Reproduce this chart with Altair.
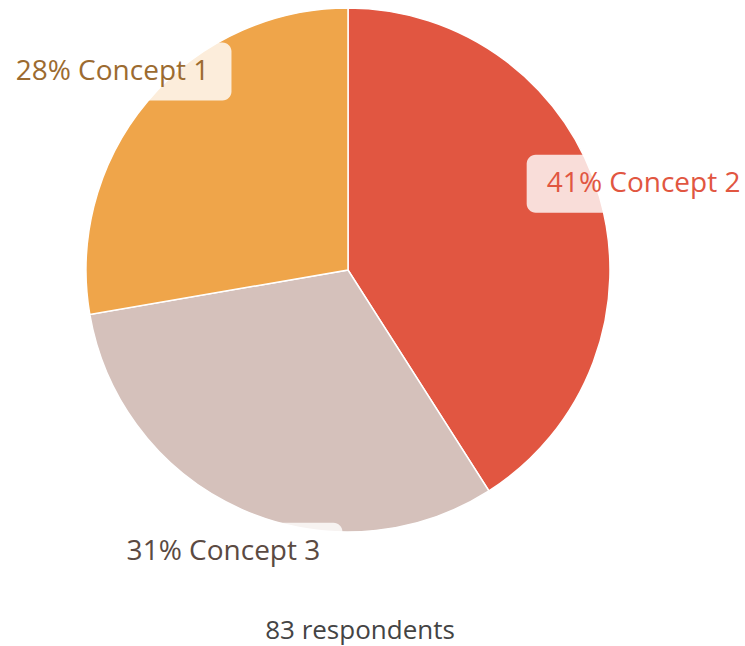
import altair as alt
import pandas as pd

# Data (clockwise from 12 o'clock)
concepts = ["Concept 2", "Concept 3", "Concept 1"]
counts = [34, 26, 23]          # 83 respondents -> 41%, 31%, 28%
slice_colors = ["#e15641", "#d5c1bb", "#efa54a"]
label_colors = ["#e15641", "#5b4a42", "#9c6b30"]

df = pd.DataFrame({"concept": concepts, "count": counts, "idx": list(range(len(concepts)))})

W, H = 745, 646
CX, CY, R = 348, 270, 262
LR = 308
FONT = "Open Sans"

xs = alt.Scale(domain=[0, W], range=[0, W], nice=False, zero=False)
ys = alt.Scale(domain=[0, H], range=[0, H], nice=False, zero=False)

base = (
    alt.Chart(df)
    .transform_joinaggregate(total="sum(count)")
    .transform_window(cum="sum(count)", sort=[alt.SortField("idx")], frame=[None, 0])
    .transform_calculate(
        mid="2*PI*(datum.cum - datum.count/2)/datum.total",
    )
    .transform_calculate(
        lx=f"{CX} + {LR}*sin(datum.mid)",
        ly=f"{CY} - {LR}*cos(datum.mid)",
        label="format(datum.count/datum.total, '.0%') + ' ' + datum.concept",
    )
)

arcs = alt.Chart(df).mark_arc(outerRadius=R, stroke="white", strokeWidth=1.5).encode(
    theta=alt.Theta("count:Q", stack=True),
    order=alt.Order("idx:Q"),
    color=alt.Color("concept:N", scale=alt.Scale(domain=concepts, range=slice_colors), legend=None),
    x=alt.value(CX),
    y=alt.value(CY),
)

boxes = (
    base.transform_calculate(
        bx1="datum.lx - 117", bx2="datum.lx + 119",
        by1="datum.ly - 29", by2="datum.ly + 29",
    )
    .mark_rect(cornerRadius=9, color="white", opacity=0.8)
    .encode(
        x=alt.X("bx1:Q", scale=xs, axis=None),
        x2="bx2:Q",
        y=alt.Y("by1:Q", scale=ys, axis=None),
        y2="by2:Q",
    )
)

labels = base.mark_text(font=FONT, fontSize=28, align="center", baseline="middle").encode(
    x=alt.X("lx:Q", scale=xs, axis=None),
    y=alt.Y("ly:Q", scale=ys, axis=None),
    text="label:N",
    color=alt.Color("concept:N", scale=alt.Scale(domain=concepts, range=label_colors), legend=None),
)

footer = (
    alt.Chart(df)
    .transform_aggregate(total="sum(count)")
    .transform_calculate(t="datum.total + ' respondents'")
    .mark_text(font=FONT, fontSize=26, color="#444444", align="center", baseline="middle")
    .encode(x=alt.value(360), y=alt.value(631), text="t:N")
)

chart = (
    alt.layer(arcs, boxes, labels, footer)
    .resolve_scale(color="independent")
    .properties(width=W, height=H, autosize=alt.AutoSizeParams(type="none"), padding=0)
    .configure_view(stroke=None)
)

chart.save("out.html", embed_options={"renderer": "svg", "actions": False})
